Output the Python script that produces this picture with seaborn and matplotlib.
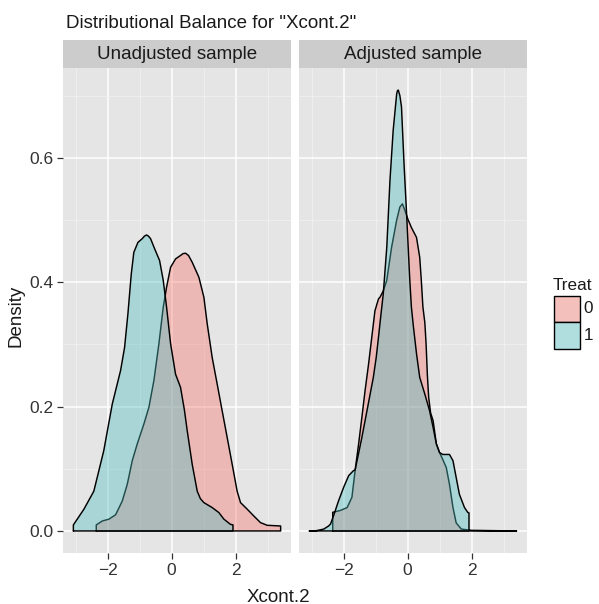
import numpy as np
import pandas as pd
import matplotlib
matplotlib.use("Agg")
import matplotlib.pyplot as plt
from matplotlib.patches import Rectangle
import seaborn as sns

# ---------------- data ----------------
panels = ["Unadjusted sample", "Adjusted sample"]
treat_levels = ["0", "1"]
x_ticks = [-2, 0, 2]
x_tick_labels = ["\u22122", "0", "2"]
y_ticks = [0.0, 0.2, 0.4, 0.6]
y_tick_labels = ["0.0", "0.2", "0.4", "0.6"]

# Unadjusted sample, Treat 0
unadj_x0 = [-2.354, -2.167, -1.958, -1.75, -1.542, -1.385, -1.229, -1.073, -0.865, -0.708,
            -0.552, -0.396, -0.26, -0.156, -0.031, 0.125, 0.28, 0.36, 0.4375, 0.53, 0.646, 0.854,
            1.01, 1.115, 1.27, 1.427, 1.583, 1.74, 1.896, 2.05, 2.156, 2.365,
            2.573, 2.78, 2.99, 3.41]
unadj_y0 = [0.0097, 0.016, 0.019, 0.026, 0.048, 0.075, 0.113, 0.14, 0.172, 0.199,
            0.242, 0.301, 0.360, 0.392, 0.424, 0.4375, 0.443, 0.446, 0.4466, 0.443, 0.432, 0.408,
            0.376, 0.333, 0.279, 0.236, 0.193, 0.150, 0.107, 0.064, 0.0456, 0.035,
            0.024, 0.0134, 0.0091, 0.008]
# Unadjusted sample, Treat 1
unadj_x1 = [-3.07, -2.74, -2.43, -2.12, -1.854, -1.594, -1.469, -1.365, -1.26, -1.18,
            -1.052, -0.917, -0.85, -0.781, -0.72, -0.656, -0.531, -0.375, -0.26, -0.156, -0.03, 0.125,
            0.28, 0.40, 0.49, 0.646, 0.802, 0.90, 1.01, 1.27, 1.48, 1.635,
            1.84, 1.92]
unadj_y1 = [0.0097, 0.035, 0.064, 0.129, 0.204, 0.258, 0.295, 0.349, 0.413, 0.448,
            0.464, 0.470, 0.474, 0.476, 0.474, 0.470, 0.454, 0.435, 0.403, 0.360, 0.301, 0.252,
            0.231, 0.195, 0.161, 0.107, 0.064, 0.052, 0.0456, 0.0376, 0.0295, 0.019,
            0.0107, 0.0097]
# Adjusted sample, Treat 0
adj_x0 = [-2.34, -2.10, -1.89, -1.74, -1.64, -1.53, -1.43, -1.33, -1.22, -1.12,
          -1.02, -0.91, -0.86, -0.76, -0.65, -0.50, -0.34, -0.24, -0.16, -0.08,
          0.02, 0.12, 0.28, 0.38, 0.43, 0.48, 0.54, 0.58, 0.62, 0.66,
          0.72, 0.80, 0.90, 1.0, 1.1, 1.21, 1.31, 1.42, 1.52, 1.68,
          2.0, 3.41]
adj_y0 = [0.030, 0.033, 0.0376, 0.054, 0.097, 0.14, 0.182, 0.225, 0.268, 0.311,
          0.354, 0.373, 0.376, 0.386, 0.403, 0.456, 0.50, 0.521, 0.526, 0.515,
          0.50, 0.488, 0.472, 0.44, 0.403, 0.36, 0.335, 0.30, 0.25, 0.215,
          0.19, 0.177, 0.14, 0.126, 0.115, 0.102, 0.075, 0.0376, 0.013, 0.003,
          0.001, 0.0]
# Adjusted sample, Treat 1
adj_x1 = [-3.07, -2.85, -2.62, -2.47, -2.41, -2.31, -2.16, -2.0, -1.84, -1.69,
          -1.64, -1.53, -1.43, -1.27, -1.17, -1.07, -0.98, -0.91, -0.83, -0.76,
          -0.65, -0.55, -0.45, -0.34, -0.315, -0.29, -0.24, -0.19, -0.11, -0.03, 0.02, 0.07,
          0.12, 0.18, 0.28, 0.38, 0.54, 0.69, 0.80, 0.90, 1.0, 1.1,
          1.31, 1.42, 1.52, 1.62, 1.78, 1.88, 1.92]
adj_y1 = [0.0, 0.0005, 0.003, 0.008, 0.011, 0.025, 0.048, 0.070, 0.089, 0.097,
          0.098, 0.125, 0.150, 0.193, 0.22, 0.247, 0.279, 0.311, 0.349, 0.381,
          0.456, 0.564, 0.644, 0.703, 0.708, 0.709, 0.700, 0.682, 0.590, 0.51, 0.456, 0.403,
          0.36, 0.33, 0.285, 0.247, 0.22, 0.193, 0.166, 0.14, 0.126, 0.123,
          0.123, 0.113, 0.086, 0.059, 0.0376, 0.030, 0.029]

frames = []
for panel, t, xs, ys in [(panels[0], "0", unadj_x0, unadj_y0), (panels[0], "1", unadj_x1, unadj_y1),
                         (panels[1], "0", adj_x0, adj_y0), (panels[1], "1", adj_x1, adj_y1)]:
    frames.append(pd.DataFrame({"panel": panel, "Treat": t, "x": xs, "y": ys}))
df = pd.concat(frames, ignore_index=True)

# ---------------- style ----------------
sns.set_theme(style="darkgrid")
plt.rcParams['font.family'] = ['Liberation Sans', 'DejaVu Sans']

W, H = 599, 604
fig = plt.figure(figsize=(W / 100, H / 100), dpi=100)
fig.patch.set_facecolor("white")

palette = {"0": "#F8766D", "1": "#4FBFC1"}
PANEL_BG = "#E5E5E5"
STRIP_BG = "#CCCCCC"
TXT = "#1a1a1a"
TICK_TXT = "#333333"

all_x = df["x"].to_numpy()
xr = all_x.max() - all_x.min()
xlim = (all_x.min() - 0.05 * xr, all_x.max() + 0.05 * xr)
ymax = df["y"].max()
ylim = (-0.05 * ymax, ymax * 1.05)

panel_lefts = [63, 299]
ax_w, ax_top, ax_bot = 228, 68, 553
strip_top = 40

for i, panel in enumerate(panels):
    L = panel_lefts[i]
    ax = fig.add_axes([L / W, 1 - ax_bot / H, ax_w / W, (ax_bot - ax_top) / H])
    ax.set_facecolor(PANEL_BG)
    for s in ax.spines.values():
        s.set_visible(False)
    sub = df[df["panel"] == panel]
    z = 2.0
    for t in treat_levels:
        d = sub[sub["Treat"] == t]
        xs = d["x"].tolist()
        ys = d["y"].tolist()
        px = [xs[0]] + xs + [xs[-1], xs[0]]
        py = [0.0] + ys + [0.0, 0.0]
        ax.fill(px, py, facecolor=palette[t], alpha=0.4, edgecolor="none", zorder=z)
        sns.lineplot(x=px, y=py, sort=False, estimator=None, color="black",
                     linewidth=1.05, ax=ax, zorder=z + 0.1, legend=False,
                     solid_joinstyle="round")
        z += 0.2
    ax.set_xlim(xlim)
    ax.set_ylim(ylim)
    ax.set_xticks(x_ticks)
    ax.set_xticklabels(x_tick_labels)
    ax.set_xticks([-3, -1, 1, 3], minor=True)
    ax.set_yticks([0.1, 0.3, 0.5, 0.7], minor=True)
    ax.set_yticks(y_ticks)
    if i == 0:
        ax.set_yticklabels(y_tick_labels)
        ax.tick_params(axis="y", which="major", length=4, width=0.9, color="#333333",
                       labelsize=12.5, labelcolor=TICK_TXT, pad=3, left=True)
    else:
        ax.set_yticklabels([])
        ax.tick_params(axis="y", which="major", length=0)
    ax.tick_params(axis="x", which="major", length=4, width=0.9, color="#333333",
                   labelsize=12.5, labelcolor=TICK_TXT, pad=3, bottom=True)
    ax.tick_params(which="minor", length=0)
    ax.grid(which="major", color="white", linewidth=1.1)
    ax.grid(which="minor", color="#F2F2F2", linewidth=0.55)
    ax.set_axisbelow(True)
    ax.set_xlabel("")
    ax.set_ylabel("")

    sax = fig.add_axes([L / W, 1 - ax_top / H, ax_w / W, (ax_top - strip_top) / H])
    sax.set_facecolor(STRIP_BG)
    sax.set_xticks([])
    sax.set_yticks([])
    sax.grid(False)
    for s in sax.spines.values():
        s.set_visible(False)
    sax.text(0.5, 0.47, panel, ha="center", va="center", fontsize=13.5, color=TXT,
             transform=sax.transAxes)

# titles
fig.text(66 / W, 1 - 28.3 / H, 'Distributional Balance for "Xcont.2"', ha="left",
         va="baseline", fontsize=13.5, color=TXT)
fig.text(278 / W, 1 - 601.5 / H, "Xcont.2", ha="center", va="baseline",
         fontsize=13.5, color=TXT)
fig.text(16 / W, 1 - 316 / H, "Density", ha="center", va="center", rotation=90,
         fontsize=13.5, color=TXT)

# legend
fig.text(553 / W, 1 - 290.5 / H, "Treat", ha="left", va="baseline", fontsize=12.3, color=TXT)
key_x, key_w, key_h = 553.5, 26.5, 26.5
for j, t in enumerate(treat_levels):
    top = 295.7 + j * key_h
    rect_xy = (key_x / W, 1 - (top + key_h) / H)
    fig.patches.append(Rectangle(rect_xy, key_w / W, key_h / H, transform=fig.transFigure,
                                 facecolor="#F2F2F2", edgecolor="none", figure=fig))
    fig.patches.append(Rectangle(rect_xy, key_w / W, key_h / H, transform=fig.transFigure,
                                 facecolor=palette[t], alpha=0.4, edgecolor="none", figure=fig))
    fig.patches.append(Rectangle(rect_xy, key_w / W, key_h / H, transform=fig.transFigure,
                                 facecolor="none", edgecolor="black", linewidth=1.0, figure=fig))
    fig.text((key_x + key_w + 3.5) / W, 1 - (top + key_h / 2) / H, t, ha="left",
             va="center", fontsize=12.3, color=TXT)

fig.savefig("out.png", dpi=100)
